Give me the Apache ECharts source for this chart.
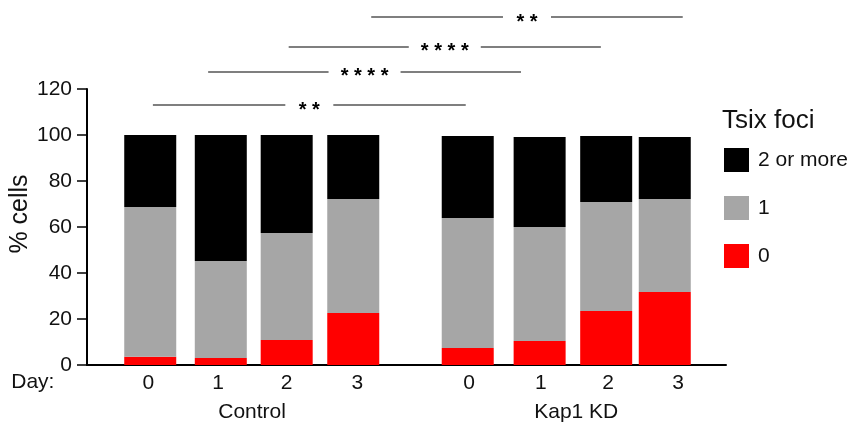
<!DOCTYPE html>
<html>
<head>
<meta charset="utf-8">
<script src="https://cdn.jsdelivr.net/npm/echarts@6/dist/echarts.min.js"></script>
<style>
  html, body { margin: 0; padding: 0; background: #fff; }
  #chart { width: 851px; height: 426px; }
</style>
</head>
<body>
<div id="chart"></div>
<script>
// data
const days = ['0', '1', '2', '3', '0', '1', '2', '3'];
const groups = ['Control', 'Kap1 KD'];
const barPos = [0.95, 2.01, 3.0, 4.0, 5.72, 6.8, 7.8, 8.68];
const dayLabelPos = [0.92, 1.97, 3.0, 4.06, 5.74, 6.82, 7.83, 8.88];
const groupLabelPos = [2.48, 7.35];

const fociZero = [3.6, 3.0, 10.9, 22.6, 7.4, 10.4, 23.5, 31.7];
const fociOne = [65.1, 42.2, 46.5, 49.6, 56.5, 49.6, 47.4, 40.5];
const fociTwoPlus = [31.3, 54.8, 42.6, 27.8, 35.7, 39.1, 28.7, 26.9];

// significance brackets: [from, to, height, stars]
const brackets = [
  [0.99, 5.69, 113.0, '**'],
  [1.82, 6.52, 127.4, '****'],
  [3.03, 7.72, 138.3, '****'],
  [4.27, 8.95, 151.3, '**']
];

const yTicks = [0, 20, 40, 60, 80, 100, 120];

const FONT = 'Liberation Sans, Arial, sans-serif';
const chart = echarts.init(document.getElementById('chart'));

// value first so the stack runs on y
function pair(vals) {
  return vals.map((v, i) => [v, barPos[i]]);
}

function barSeries(name, vals, color) {
  return {
    name: name,
    type: 'bar',
    stack: 'cells',
    barWidth: 52,
    itemStyle: { color: color },
    encode: { x: 1, y: 0 },
    data: pair(vals),
    animation: false
  };
}

const option = {
  backgroundColor: '#fff',
  title: {
    text: 'Tsix foci',
    left: 722,
    top: 108,
    padding: 0,
    textStyle: { fontFamily: FONT, fontSize: 26, fontWeight: 'normal', color: '#111' }
  },
  legend: {
    orient: 'vertical',
    left: 724,
    top: 148,
    padding: 0,
    itemWidth: 25,
    itemHeight: 24,
    itemGap: 24,
    icon: 'rect',
    data: ['2 or more', '1', '0'],
    textStyle: { fontFamily: FONT, fontSize: 21, color: '#111', padding: [0, 0, 0, 4] }
  },
  graphic: [
    {
      type: 'text',
      x: 20,
      y: 214,
      rotation: Math.PI / 2,
      style: {
        text: '% cells',
        font: '25px ' + FONT,
        fill: '#111',
        textAlign: 'center',
        textVerticalAlign: 'middle'
      }
    }
  ],
  grid: { left: 87, right: 125, top: 89, bottom: 61 },
  xAxis: [
    {
      type: 'value',
      min: 0,
      max: 9.6,
      name: 'Day:',
      nameLocation: 'start',
      nameGap: 32,
      nameTextStyle: { fontFamily: FONT, fontSize: 21, color: '#111', verticalAlign: 'top', padding: [7, 0, 0, 0] },
      axisLine: { show: true, lineStyle: { color: '#000', width: 2 } },
      axisTick: { show: false },
      splitLine: { show: false },
      axisLabel: {
        customValues: dayLabelPos,
        formatter: v => days[dayLabelPos.indexOf(v)] || '',
        fontFamily: FONT,
        fontSize: 21,
        color: '#111',
        margin: 8
      }
    },
    {
      type: 'value',
      min: 0,
      max: 9.6,
      position: 'bottom',
      offset: 29,
      axisLine: { show: false },
      axisTick: { show: false },
      splitLine: { show: false },
      axisLabel: {
        customValues: groupLabelPos,
        formatter: v => groups[groupLabelPos.indexOf(v)] || '',
        fontFamily: FONT,
        fontSize: 21,
        color: '#111',
        margin: 8
      }
    }
  ],
  yAxis: {
    type: 'value',
    min: 0,
    max: 120,
    interval: 20,
    axisLine: { show: true, lineStyle: { color: '#000', width: 2 } },
    axisTick: { show: true, length: 10, lineStyle: { color: '#000', width: 1.5 } },
    splitLine: { show: false },
    axisLabel: {
      formatter: v => (yTicks.indexOf(v) >= 0 ? String(v) : ''),
      fontFamily: FONT,
      fontSize: 21,
      color: '#111',
      margin: 15
    }
  },
  series: [
    barSeries('0', fociZero, '#ff0000'),
    barSeries('1', fociOne, '#a6a6a6'),
    barSeries('2 or more', fociTwoPlus, '#000000'),
    {
      type: 'custom',
      name: 'sig',
      animation: false,
      silent: true,
      clip: false,
      encode: { x: [0, 1], y: 2 },
      data: brackets,
      renderItem: function (params, api) {
        const p1 = api.coord([api.value(0), api.value(2)]);
        const p2 = api.coord([api.value(1), api.value(2)]);
        const stars = brackets[params.dataIndex][3];
        const mid = (p1[0] + p2[0]) / 2;
        const half = 12 + stars.length * 6;
        const lineStyle = { stroke: '#555', lineWidth: 1.5 };
        return {
          type: 'group',
          children: [
            { type: 'line', shape: { x1: p1[0], y1: p1[1], x2: mid - half, y2: p1[1] }, style: lineStyle },
            { type: 'line', shape: { x1: mid + half, y1: p2[1], x2: p2[0], y2: p2[1] }, style: lineStyle },
            {
              type: 'text',
              x: mid,
              y: p1[1] + 5,
              style: {
                text: stars.split('').join(' '),
                font: 'bold 20px ' + FONT,
                fill: '#000',
                textAlign: 'center',
                textVerticalAlign: 'middle'
              }
            }
          ]
        };
      }
    }
  ]
};

chart.setOption(option);
</script>
</body>
</html>
